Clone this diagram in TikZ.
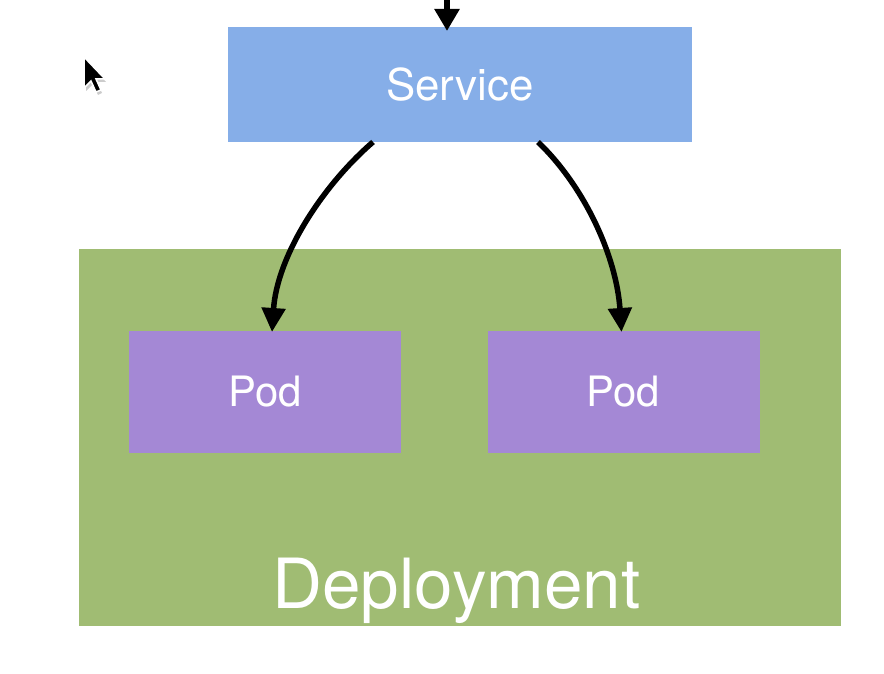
\documentclass[tikz,border=0pt]{standalone}
\usepackage{fontspec}
\setmainfont{TeX Gyre Heros}
\usetikzlibrary{arrows.meta}

\definecolor{svcblue}{HTML}{86AEE8}
\definecolor{depgreen}{HTML}{A0BC73}
\definecolor{podpurple}{HTML}{A488D5}

\tikzset{
  box/.style={draw=none, inner sep=0pt, outer sep=0pt, text=white},
  svcbox/.style={box, fill=svcblue, minimum width=464bp, minimum height=115bp,
    font=\fontsize{44}{50}\selectfont},
  podbox/.style={box, fill=podpurple, minimum width=272bp, minimum height=122bp,
    font=\fontsize{42}{48}\selectfont},
  depbox/.style={box, fill=depgreen, minimum width=762bp, minimum height=377bp},
  deplabel/.style={text=white, inner sep=0pt, font=\fontsize{69.5}{78}\selectfont},
  link/.style={line width=5.5bp, -{Triangle[length=24bp,width=23bp]}},
  pointer/.style={fill=black, draw=white, line width=1.5bp, line join=miter}
}

\begin{document}
\begin{tikzpicture}[x=1bp, y=-1bp]
  \useasboundingbox (0,0) rectangle (884,674);
  \fill[white] (0,0) rectangle (884,674);

  % deployment area with its two pods
  \node[depbox] (dep) at (460,437.5) {};
  \node[deplabel, anchor=base] (deptext) at (456.5,608) {Deployment};
  \node[podbox] (pod1) at (265,392) {Pod};
  \node[podbox] (pod2) at (623.5,392) {Pod};

  % service in front of the pods
  \node[svcbox] (svc) at (460,84.5) {Service};

  % incoming traffic
  \coordinate (in) at (447,-4);
  \draw[link, -{Triangle[length=22bp,width=24bp]}, shorten >=-4bp] (in) -- (in |- svc.north);

  % service routes to each pod
  \draw[link] ([xshift=-87bp]svc.south) .. controls +(-52,45) and +(5,-75) .. ([xshift=7bp,yshift=-1bp]pod1.north);
  \draw[link] ([xshift=78bp]svc.south) .. controls +(47,45) and +(-5,-75) .. ([xshift=-2bp,yshift=-1bp]pod2.north);

  % mouse pointer
  \fill[black!20] (86,61) -- (86,91) -- (93,84) -- (98,95) -- (102,93) -- (97,82) -- (106,82) -- cycle;
  \draw[pointer] (84,57) -- (84,88) -- (91,81) -- (96,92) -- (101,90) -- (96,79) -- (105,79) -- cycle;
\end{tikzpicture}
\end{document}
